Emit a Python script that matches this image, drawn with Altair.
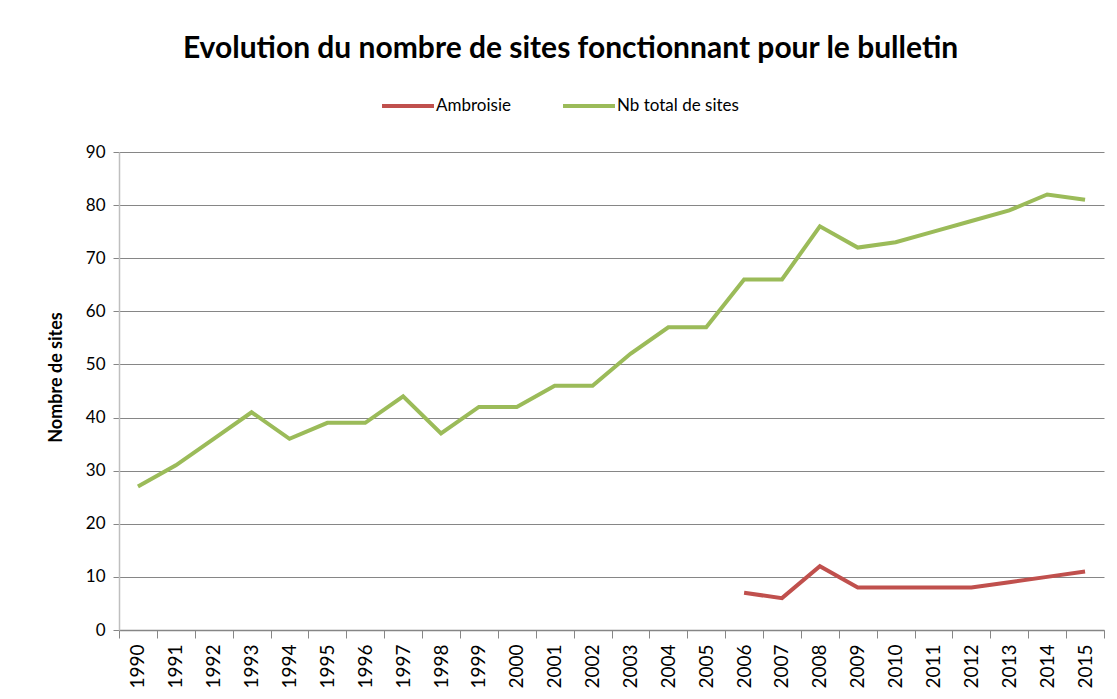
import altair as alt
import pandas as pd

years = [str(y) for y in range(1990, 2016)]
total_sites = [27, 31, 36, 41, 36, 39, 39, 44, 37, 42, 42, 46, 46, 52, 57, 57,
               66, 66, 76, 72, 73, 75, 77, 79, 82, 81]
ambroisie_years = [str(y) for y in range(2006, 2016)]
ambroisie = [7, 6, 12, 8, 8, 8, 8, 9, 10, 11]

series_names = ["Ambroisie", "Nb total de sites"]
series_colors = ["#C0504D", "#9BBB59"]

rows = []
for y, v in zip(ambroisie_years, ambroisie):
    rows.append({"Année": y, "Valeur": v, "Série": series_names[0]})
for y, v in zip(years, total_sites):
    rows.append({"Année": y, "Valeur": v, "Série": series_names[1]})
df = pd.DataFrame(rows)

FONT = "Lato"

chart = (
    alt.Chart(df)
    .mark_line(strokeWidth=4)
    .encode(
        x=alt.X(
            "Année:O",
            sort=years,
            scale=alt.Scale(type="band", domain=years, paddingInner=0, paddingOuter=0),
            axis=alt.Axis(
                title=None,
                labelAngle=-90,
                labelFontSize=19,
                labelColor="#000000",
                labelPadding=6,
                tickBand="extent",
                tickSize=8,
                tickColor="#868686",
                domainColor="#868686",
                domainWidth=1.5,
                grid=False,
            ),
        ),
        y=alt.Y(
            "Valeur:Q",
            scale=alt.Scale(domain=[0, 90], nice=False),
            axis=alt.Axis(
                title="Nombre de sites",
                titleFontSize=18,
                titleFontWeight="bold",
                titleColor="#000000",
                titlePadding=20,
                titleY=225,
                values=list(range(0, 91, 10)),
                labelFontSize=17,
                labelColor="#000000",
                labelPadding=8,
                tickSize=6,
                tickColor="#868686",
                domainColor="#BFBFBF",
                domainWidth=1.5,
                gridColor="#868686",
                gridWidth=1,
            ),
        ),
        color=alt.Color(
            "Série:N",
            scale=alt.Scale(domain=series_names, range=series_colors),
            legend=alt.Legend(
                title=None,
                orient="none",
                legendX=261,
                legendY=-74,
                direction="horizontal",
                columns=2,
                columnPadding=44,
                symbolType="stroke",
                symbolSize=2700,
                symbolStrokeWidth=4,
                labelOffset=0,
                labelFontSize=17,
                labelColor="#000000",
            ),
        ),
    )
    .properties(
        width=985,
        height=478,
        title=alt.TitleParams(
            "Evolution du nombre de sites fonctionnant pour le bulletin",
            fontSize=30,
            fontWeight="bold",
            font=FONT,
            color="#000000",
            anchor="middle",
            dx=-41,
            offset=14,
        ),
        autosize=alt.AutoSizeParams(type="none"),
        padding={"left": 111, "top": 144, "right": 5, "bottom": 60},
    )
    .configure(font=FONT)
    .configure_view(stroke=None)
)

chart.save("out.html", embed_options={"renderer": "svg", "actions": False})
